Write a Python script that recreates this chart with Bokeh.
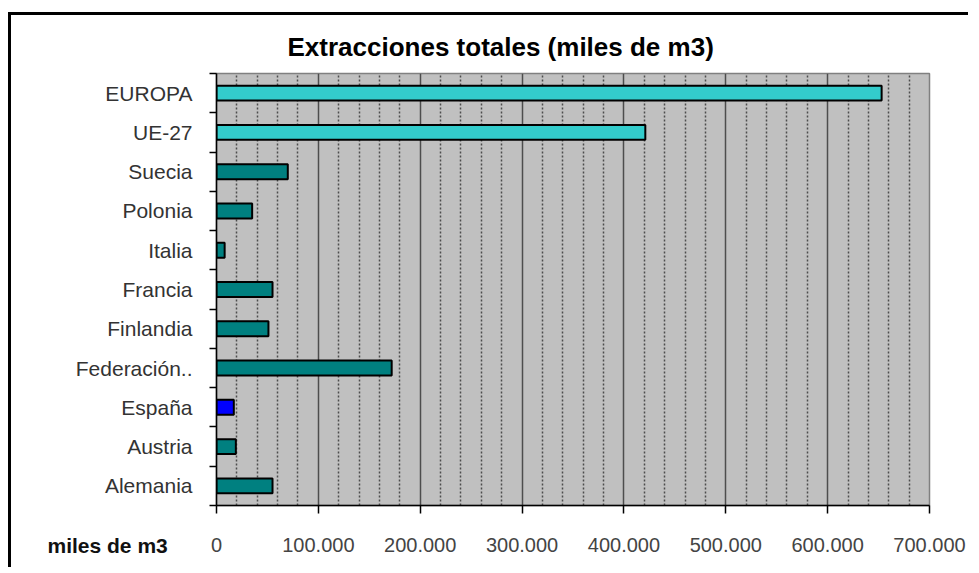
from bokeh.plotting import figure
from bokeh.models import (Range1d, LinearAxis, FixedTicker, Title, ColumnDataSource)
from bokeh.embed import file_html
from bokeh.resources import INLINE

# ---- data ----
categories = ["EUROPA", "UE-27", "Suecia", "Polonia", "Italia", "Francia",
              "Finlandia", "Federación..", "España", "Austria", "Alemania"]
values = [653000, 421000, 70000, 35000, 8000, 55000, 51000, 172000, 17000, 19000, 55000]
bar_colors = ["#33CCCC", "#33CCCC", "#008080", "#008080", "#008080", "#008080",
              "#008080", "#008080", "#0000FF", "#008080", "#008080"]
x_ticks = [0, 100000, 200000, 300000, 400000, 500000, 600000, 700000]
x_tick_labels = ["0", "100.000", "200.000", "300.000", "400.000", "500.000", "600.000", "700.000"]
x_minor = [v for v in range(20000, 700000, 20000) if v % 100000 != 0]
title_text = "Extracciones totales (miles de m3)"
unit_text = "miles de m3"

FONT = "Liberation Sans"
W, H = 960, 555

n = len(categories)
ypos = [n - i - 0.5 for i in range(n)]   # category slot centres (first category on top)
bounds = list(range(n + 1))
src = ColumnDataSource(dict(y=ypos, val=values, col=bar_colors))

p = figure(width=W, height=H, output_backend="svg", toolbar_location=None,
           y_range=Range1d(0, n), x_range=Range1d(0, 700000),
           x_axis_location=None, y_axis_location=None,
           min_border_left=205, min_border_right=42, min_border_top=58, min_border_bottom=65)
p.styles = {"margin-top": "12px", "margin-left": "8px",
            "border-left": "3px solid #000000", "border-top": "3px solid #000000"}

p.background_fill_color = "#C0C0C0"
p.border_fill_color = "white"
p.outline_line_color = "#808080"
p.outline_line_width = 1.5

# title
p.title.text = title_text
p.title.align = "left"
p.title.offset = 71
p.title.standoff = 24
p.title.text_font = FONT
p.title.text_font_size = "26px"
p.title.text_font_style = "bold"
p.title.text_color = "black"

# bars
p.hbar(y="y", left=0, right="val", height=0.38, fill_color="col",
       line_color="black", line_width=2, source=src)

# x axis
xt = FixedTicker(ticks=x_ticks, minor_ticks=x_minor)
xaxis = LinearAxis(ticker=xt)
xaxis.major_label_overrides = {t: l for t, l in zip(x_ticks, x_tick_labels)}
xaxis.major_tick_out = 8
xaxis.major_tick_in = 0
xaxis.minor_tick_out = 0
xaxis.minor_tick_in = 0
xaxis.axis_line_color = "black"
xaxis.axis_line_width = 1.5
xaxis.major_tick_line_color = "black"
xaxis.major_tick_line_width = 1.5
xaxis.major_label_standoff = 24
xaxis.major_label_text_font = FONT
xaxis.major_label_text_font_size = "20px"
xaxis.major_label_text_color = "#444444"
p.add_layout(xaxis, "below")

# unit text on the tick-label line, left of the axis
unit = Title(text=unit_text, align="left", offset=-169, vertical_align="top", standoff=-42,
             text_font=FONT, text_font_size="21px", text_font_style="bold", text_color="#111111")
p.add_layout(unit, "below")

# grid
p.xgrid.ticker = xt
p.xgrid.grid_line_color = "#4d4d4d"
p.xgrid.grid_line_width = 1.5
p.xgrid.minor_grid_line_color = "#4d4d4d"
p.xgrid.minor_grid_line_width = 1.5
p.xgrid.minor_grid_line_dash = "2 2"
p.ygrid.grid_line_color = None

# category axis: labels at slot centres, tick marks at slot boundaries
yaxis = LinearAxis(ticker=FixedTicker(ticks=ypos, minor_ticks=bounds))
yaxis.major_label_overrides = {y: c for y, c in zip(ypos, categories)}
yaxis.major_tick_out = 0
yaxis.major_tick_in = 0
yaxis.minor_tick_out = 7
yaxis.minor_tick_in = 0
yaxis.minor_tick_line_color = "black"
yaxis.minor_tick_line_width = 1.5
yaxis.axis_line_color = "black"
yaxis.axis_line_width = 1.5
yaxis.major_label_standoff = 17
yaxis.major_label_text_font = FONT
yaxis.major_label_text_font_size = "21px"
yaxis.major_label_text_color = "#333333"
p.add_layout(yaxis, "left")

open("out.html", "w").write(file_html(p, INLINE))
